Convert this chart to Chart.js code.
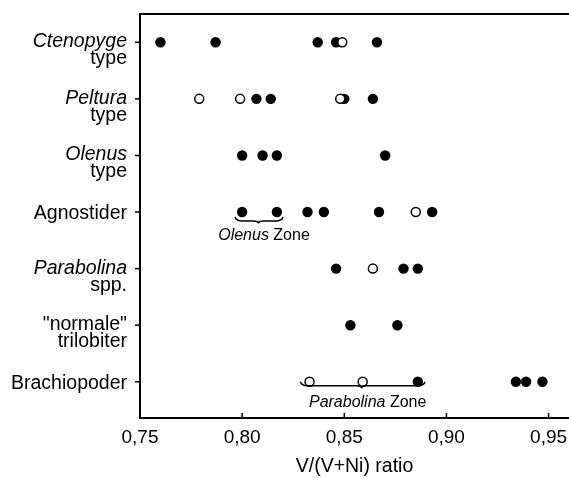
<!DOCTYPE html>
<html>
<head>
<meta charset="utf-8">
<script src="https://cdn.jsdelivr.net/npm/chart.js@4.4.0/dist/chart.umd.min.js"></script>
<style>
  html, body { margin: 0; padding: 0; background: #fff; overflow: hidden; }
  #wrap { width: 569px; height: 478px; overflow: hidden; }
  #chart { display: block; }
</style>
</head>
<body>
<div id="wrap"><canvas id="chart" width="569" height="478"></canvas></div>
<script>
// rows, top to bottom
const categories = [
  ['Ctenopyge', 'type'],
  ['Peltura', 'type'],
  ['Olenus', 'type'],
  ['Agnostider'],
  ['Parabolina', 'spp.'],
  ['"normale"', 'trilobiter'],
  ['Brachiopoder']
];
const italicWords = ['Ctenopyge', 'Peltura', 'Olenus', 'Parabolina'];

// V/(V+Ni) per row, filled and open circles
const filledValues = [
  [0.760, 0.787, 0.837, 0.846, 0.866],
  [0.807, 0.814, 0.850, 0.864],
  [0.800, 0.810, 0.817, 0.870],
  [0.800, 0.817, 0.832, 0.840, 0.867, 0.893],
  [0.846, 0.879, 0.886],
  [0.853, 0.876],
  [0.886, 0.934, 0.939, 0.947]
];
const hollowValues = [
  [0.849],
  [0.779, 0.799, 0.848],
  [],
  [0.885],
  [0.864],
  [],
  [0.833, 0.859]
];

const xTickValues = [0.75, 0.80, 0.85, 0.90, 0.95];
const xTickLabels = ['0,75', '0,80', '0,85', '0,90', '0,95'];

// zone braces (row index, from, to, tip)
const zoneNames = [['Olenus', ' Zone'], ['Parabolina', ' Zone']];
const zoneRows = [3, 6];
const zoneFrom = [0.7965, 0.8285];
const zoneTo = [0.820, 0.8895];
const zoneTip = [0.808, 0.8585];

const FONT = '"Liberation Sans", Arial, Helvetica, sans-serif';

function toPoints(rows) {
  const pts = [];
  rows.forEach((vals, i) => vals.forEach(v => pts.push({ x: v, y: i })));
  return pts;
}

function brace(ctx, x1, x2, xm, y, h) {
  const m = y + h * 0.6;
  ctx.beginPath();
  ctx.moveTo(x1, y);
  ctx.quadraticCurveTo(x1 + 1, m, x1 + 7, m);
  ctx.lineTo(xm - 5, m);
  ctx.quadraticCurveTo(xm, m, xm, y + h);
  ctx.quadraticCurveTo(xm, m, xm + 5, m);
  ctx.lineTo(x2 - 7, m);
  ctx.quadraticCurveTo(x2 - 1, m, x2, y);
  ctx.stroke();
}

const decorations = {
  id: 'decorations',
  afterDraw(chart) {
    const ctx = chart.ctx;
    const xs = chart.scales.x, ys = chart.scales.y;
    const area = chart.chartArea;
    ctx.save();

    // keep the right side open
    ctx.fillStyle = '#fff';
    ctx.fillRect(chart.width - 3, area.top + 1, 3, area.bottom - area.top - 2);

    ctx.strokeStyle = '#000';
    ctx.fillStyle = '#000';

    // frame: left, top, bottom (no right side)
    ctx.lineWidth = 2;
    ctx.beginPath();
    ctx.moveTo(chart.width, area.top);
    ctx.lineTo(area.left, area.top);
    ctx.lineTo(area.left, area.bottom);
    ctx.lineTo(chart.width, area.bottom);
    ctx.stroke();

    // x ticks point inwards, y ticks outwards
    ctx.lineWidth = 1.5;
    xTickValues.forEach(v => {
      const px = xs.getPixelForValue(v);
      ctx.beginPath();
      ctx.moveTo(px, area.bottom);
      ctx.lineTo(px, area.bottom - 5);
      ctx.stroke();
    });
    categories.forEach((c, i) => {
      const py = ys.getPixelForValue(i);
      ctx.beginPath();
      ctx.moveTo(area.left - 5, py);
      ctx.lineTo(area.left, py);
      ctx.stroke();
    });

    // category labels, some lines in italics
    ctx.textAlign = 'right';
    ctx.textBaseline = 'alphabetic';
    categories.forEach((lines, i) => {
      const py = ys.getPixelForValue(i);
      const first = lines.length > 1 ? 5 : 7;
      lines.forEach((line, j) => {
        ctx.font = (italicWords.includes(line) ? 'italic ' : '') + '19.5px ' + FONT;
        ctx.fillText(line, 127, py + first + j * 17);
      });
    });

    // zone braces + labels
    const braceOffset = [5, 0];
    const labelOffset = [28, 25];
    ctx.lineWidth = 1.4;
    ctx.textAlign = 'left';
    zoneNames.forEach((name, k) => {
      const py = ys.getPixelForValue(zoneRows[k]);
      const x1 = xs.getPixelForValue(zoneFrom[k]);
      const x2 = xs.getPixelForValue(zoneTo[k]);
      const xm = xs.getPixelForValue(zoneTip[k]);
      brace(ctx, x1, x2, xm, py + braceOffset[k], 6.5);

      ctx.font = 'italic 16px ' + FONT;
      const w1 = ctx.measureText(name[0]).width;
      ctx.font = '16px ' + FONT;
      const w2 = ctx.measureText(name[1]).width;
      const cx = (x1 + x2) / 2 + 5;
      const ty = py + labelOffset[k];
      ctx.font = 'italic 16px ' + FONT;
      ctx.fillText(name[0], cx - (w1 + w2) / 2, ty);
      ctx.font = '16px ' + FONT;
      ctx.fillText(name[1], cx - (w1 + w2) / 2 + w1, ty);
    });
    ctx.restore();
  }
};

new Chart(document.getElementById('chart'), {
  type: 'scatter',
  data: {
    datasets: [
      {
        label: 'open',
        data: toPoints(hollowValues),
        pointRadius: 4.5,
        pointBackgroundColor: '#fff',
        pointBorderColor: '#000',
        pointBorderWidth: 1.5
      },
      {
        label: 'filled',
        data: toPoints(filledValues),
        pointRadius: 5.2,
        pointBackgroundColor: '#000',
        pointBorderColor: '#000',
        pointBorderWidth: 0
      }
    ]
  },
  options: {
    responsive: false,
    animation: false,
    events: [],
    layout: { autoPadding: false, padding: { top: 14, right: 0, left: 0, bottom: 0 } },
    plugins: { legend: { display: false }, tooltip: { enabled: false } },
    scales: {
      x: {
        type: 'linear',
        min: 0.75,
        max: 0.96,
        afterBuildTicks: s => { s.ticks = xTickValues.map(v => ({ value: v })); },
        afterFit: s => { s.height = 60; s.paddingRight = 0; s.paddingLeft = 0; },
        grid: { display: false, drawTicks: false },
        border: { display: false },
        ticks: {
          color: '#000',
          font: { family: FONT, size: 19 },
          padding: 8,
          maxRotation: 0,
          autoSkip: false,
          callback: (v, i) => xTickLabels[i]
        },
        title: {
          display: true,
          text: 'V/(V+Ni) ratio',
          color: '#000',
          font: { family: FONT, size: 19.5 },
          padding: 0
        }
      },
      y: {
        type: 'linear',
        reverse: true,
        min: -0.5,
        max: 6.64,
        afterBuildTicks: s => { s.ticks = categories.map((c, i) => ({ value: i })); },
        afterFit: s => { s.width = 140; },
        grid: { display: false, drawTicks: false },
        border: { display: false },
        ticks: { display: false }
      }
    }
  },
  plugins: [decorations]
});
</script>
</body>
</html>
